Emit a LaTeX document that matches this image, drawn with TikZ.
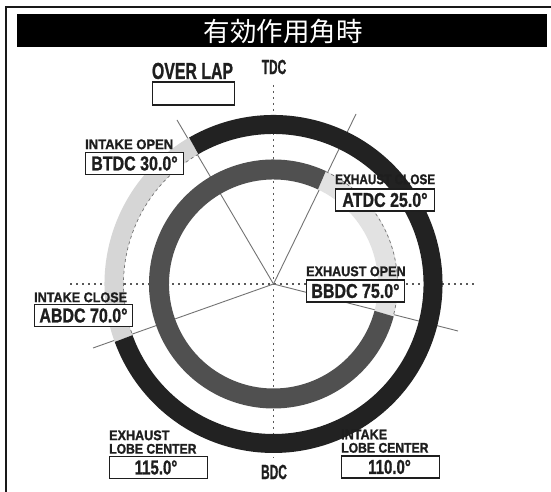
\documentclass[tikz,border=0pt]{standalone}
\usepackage{fontspec}
\setmainfont{Liberation Sans}[BoldFeatures={FakeBold=1.2}]
\newfontfamily\cjkfont{Noto Sans CJK JP}
\definecolor{ink}{HTML}{1E1E1E}
\definecolor{ringdark}{HTML}{222222}
\definecolor{ringmid}{HTML}{505050}
\definecolor{lightleft}{HTML}{D6D6D6}
\definecolor{lightright}{HTML}{E2E2E2}
\newcommand{\sx}[2]{\scalebox{#1}[1]{#2}}
\tikzset{
  x=1pt,y=1pt,
  valbox/.style={draw=ink,line width=1.4pt,fill=white,inner sep=0pt,text=ink,font=\bfseries\fontsize{20}{20}\selectfont},
  caplabel/.style={inner sep=0pt,text=ink,anchor=south west,font=\bfseries\fontsize{14}{14}\selectfont},
  toplabel/.style={inner sep=0pt,text=ink,font=\bfseries\fontsize{20.5}{20.5}\selectfont},
  dotline/.style={draw=black!65,line width=1.7pt,dash pattern=on 1.7pt off 4.3pt},
  radial/.style={draw=black!55,line width=0.9pt},
}
\begin{document}
\begin{tikzpicture}
\useasboundingbox (0,0) rectangle (551,492);
\fill[white] (0,0) rectangle (551,492);
% frame
\draw[black!90,line width=2pt] (6,0) -- (6,485) -- (551,485);
% title
\node[fill=black,minimum width=530pt,minimum height=33pt,inner sep=0pt,text=white,font=\cjkfont\fontsize{26.5}{26.5}\selectfont] (title) at (282,461) {\hspace*{2pt}有効作用角時};
% centre and line ends
\coordinate (c) at (273.5,208);
\coordinate (tdc) at (273.5,407);
\coordinate (bdc) at (273.5,34);
\coordinate (west) at (70,208);
\coordinate (east) at (477,208);
\coordinate (io) at (177,372);
\coordinate (ec) at (356,378);
\coordinate (eo) at (458,161);
\coordinate (ic) at (93,144);
\draw[dotline] (tdc) -- (bdc);
\draw[dotline] (west) -- (east);
\draw[radial] (c) -- (io);
\draw[radial] (c) -- (ec);
\draw[radial] (c) -- (eo);
\draw[radial] (c) -- (ic);
% outer ring
\draw[lightleft,line width=19pt] (c) ++(120:159.5) arc (120:200:159.5);
\draw[black!55,line width=0.7pt,dashed] (c) ++(120:150) arc (120:200:150);
\draw[ringdark,line width=19pt] (c) ++(120:159.5) arc (120:-160:159.5);
% inner ring
\draw[lightright,line width=20pt] (c) ++(65:114.5) arc (65:-15:114.5);
\draw[black!55,line width=0.7pt,dashed] (c) ++(65:124) arc (65:-15:124);
\draw[ringmid,line width=20pt] (c) ++(65:114.5) arc (65:345:114.5);
% labels
\node[toplabel] (tdcl) at (274,425) {\sx{0.58}{TDC}};
\node[toplabel] (bdcl) at (274,20) {\sx{0.58}{BDC}};
\node[inner sep=0pt,text=ink,font=\bfseries\fontsize{23}{23}\selectfont] (ovl) at (192.5,421) {\sx{0.69}{OVER LAP}};
\node[draw=ink,line width=1.2pt,fill=white,minimum width=82pt,minimum height=23pt] (ovb) at (193.5,398.5) {};
%
\node[caplabel] (iol) at (85,342.5) {\sx{0.93}{INTAKE OPEN}};
\node[valbox,minimum width=98pt,minimum height=22.5pt] (iob) at (134.5,328.5) {\sx{0.8}{BTDC 30.0°}};
\node[caplabel] (ecl) at (335,307.5) {\sx{0.84}{EXHAUST CLOSE}};
\node[valbox,minimum width=99pt,minimum height=22pt] (ecb) at (385,292) {\sx{0.8}{ATDC 25.0°}};
\node[caplabel] (eol) at (306,215.5) {\sx{0.9}{EXHAUST OPEN}};
\node[valbox,minimum width=98pt,minimum height=22pt] (eob) at (355.5,201) {\sx{0.8}{BBDC 75.0°}};
\node[caplabel] (icl) at (34,189.5) {\sx{0.9}{INTAKE CLOSE}};
\node[valbox,minimum width=98pt,minimum height=22.5pt] (icb) at (83.5,176.5) {\sx{0.8}{ABDC 70.0°}};
%
\node[caplabel] (ex1) at (109,51.5) {\sx{0.9}{EXHAUST}};
\node[caplabel] (ex2) at (109,38) {\sx{0.87}{LOBE CENTER}};
\node[valbox,minimum width=98pt,minimum height=22.5pt] (exb) at (158.5,24.5) {\sx{0.75}{115.0°}\hspace*{5pt}};
\node[caplabel] (in1) at (341,52.5) {\sx{0.9}{INTAKE}};
\node[caplabel] (in2) at (341,39) {\sx{0.87}{LOBE CENTER}};
\node[valbox,minimum width=98pt,minimum height=22pt] (inb) at (390.5,25) {\sx{0.75}{110.0°}\hspace*{2pt}};
\end{tikzpicture}
\end{document}
